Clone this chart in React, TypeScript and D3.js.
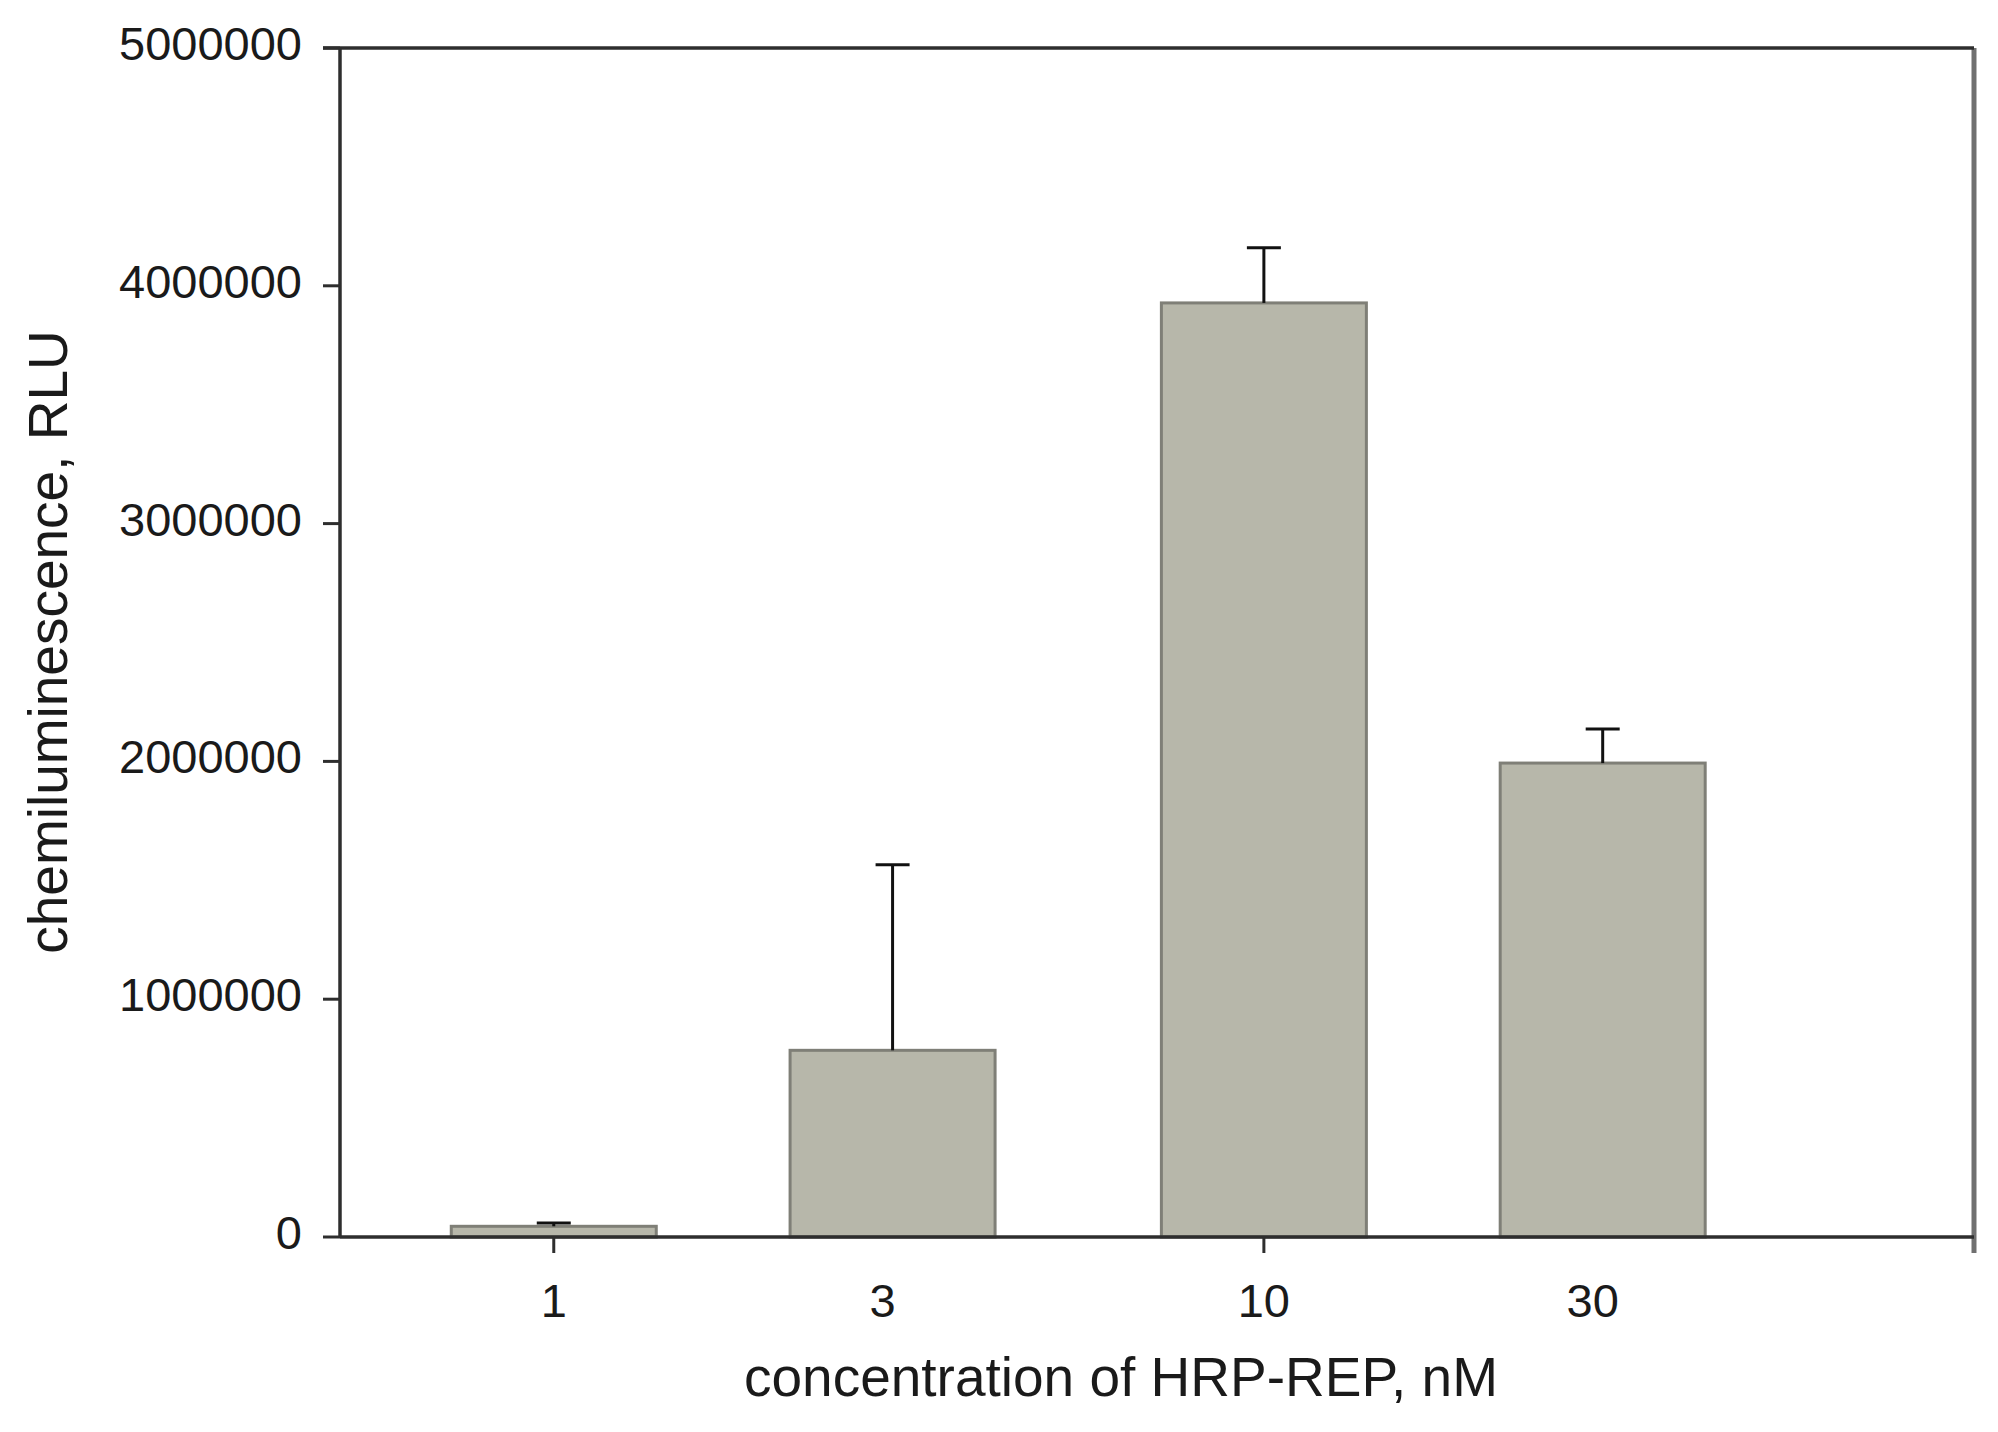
import React from "react";
import * as d3 from "d3";

const categories = ["1", "3", "10", "30"];
const concentrations = [1, 3, 10, 30];
const means = [45000, 785000, 3928000, 1993000];
const errors = [14000, 780000, 232000, 143000];
const yTicks = [0, 1000000, 2000000, 3000000, 4000000, 5000000];
const xMajorTicks = [1, 10, 100];

const W = 1998;
const H = 1432;
const left = 340;
const right = 1974;
const top = 48;
const bottom = 1237;

export default function App() {
  const x = d3.scaleLog().domain([0.5, 100]).range([left, right]);
  const y = d3.scaleLinear().domain([0, 5000000]).range([bottom, top]);
  const barW = 205;
  const capW = 34;
  const axisColor = "#2e2e2e";
  const font = "'Liberation Sans', Arial, sans-serif";

  return (
    <div style={{ position: "absolute", left: 0, top: 0 }}>
      <svg width={W} height={H} style={{ display: "block", background: "#fff" }}>
        {/* bars */}
        {concentrations.map((c, i) => {
          const cx = x(c);
          const yt = y(means[i]);
          return (
            <rect
              key={"b" + i}
              x={cx - barW / 2}
              y={yt}
              width={barW}
              height={bottom - yt}
              fill="#b7b7aa"
              stroke="#7f7f77"
              strokeWidth={3}
            />
          );
        })}
        {/* error bars */}
        {concentrations.map((c, i) => {
          const cx = x(c);
          const y0 = y(means[i]);
          const y1 = y(means[i] + errors[i]);
          return (
            <g key={"e" + i} stroke="#111" strokeWidth={3}>
              <line x1={cx} x2={cx} y1={y0} y2={y1} />
              <line x1={cx - capW / 2} x2={cx + capW / 2} y1={y1} y2={y1} />
            </g>
          );
        })}
        {/* frame */}
        <line x1={right} x2={right} y1={top} y2={bottom + 16} stroke="#707070" strokeWidth={5} />
        <line x1={left - 17} x2={right} y1={top} y2={top} stroke={axisColor} strokeWidth={3.5} />
        <line x1={left} x2={right} y1={bottom} y2={bottom} stroke={axisColor} strokeWidth={3.5} />
        <line x1={left} x2={left} y1={top} y2={bottom} stroke={axisColor} strokeWidth={3.5} />
        {/* y ticks */}
        {yTicks.map((t) => (
          <g key={"yt" + t}>
            <line x1={left - 17} x2={left} y1={y(t)} y2={y(t)} stroke={axisColor} strokeWidth={3} />
            <text
              x={302}
              y={y(t) + 12}
              textAnchor="end"
              fontFamily={font}
              fontSize={47}
              fill="#1a1a1a"
            >
              {t}
            </text>
          </g>
        ))}
        {/* x ticks */}
        {xMajorTicks.slice(0, 2).map((t) => (
          <line key={"xt" + t} x1={x(t)} x2={x(t)} y1={bottom} y2={bottom + 16} stroke={axisColor} strokeWidth={3} />
        ))}
        {concentrations.map((c, i) => (
          <text
            key={"xl" + i}
            x={x(c) - (i % 2 === 1 ? 10 : 0)}
            y={1317}
            textAnchor="middle"
            fontFamily={font}
            fontSize={47}
            fill="#1a1a1a"
          >
            {categories[i]}
          </text>
        ))}
        {/* axis titles */}
        <text x={1121} y={1396} textAnchor="middle" fontFamily={font} fontSize={55} fill="#1a1a1a">
          concentration of HRP-REP, nM
        </text>
        <text
          transform="translate(67,642) rotate(-90)"
          textAnchor="middle"
          fontFamily={font}
          fontSize={55}
          fill="#1a1a1a"
        >
          chemiluminescence, RLU
        </text>
      </svg>
    </div>
  );
}
